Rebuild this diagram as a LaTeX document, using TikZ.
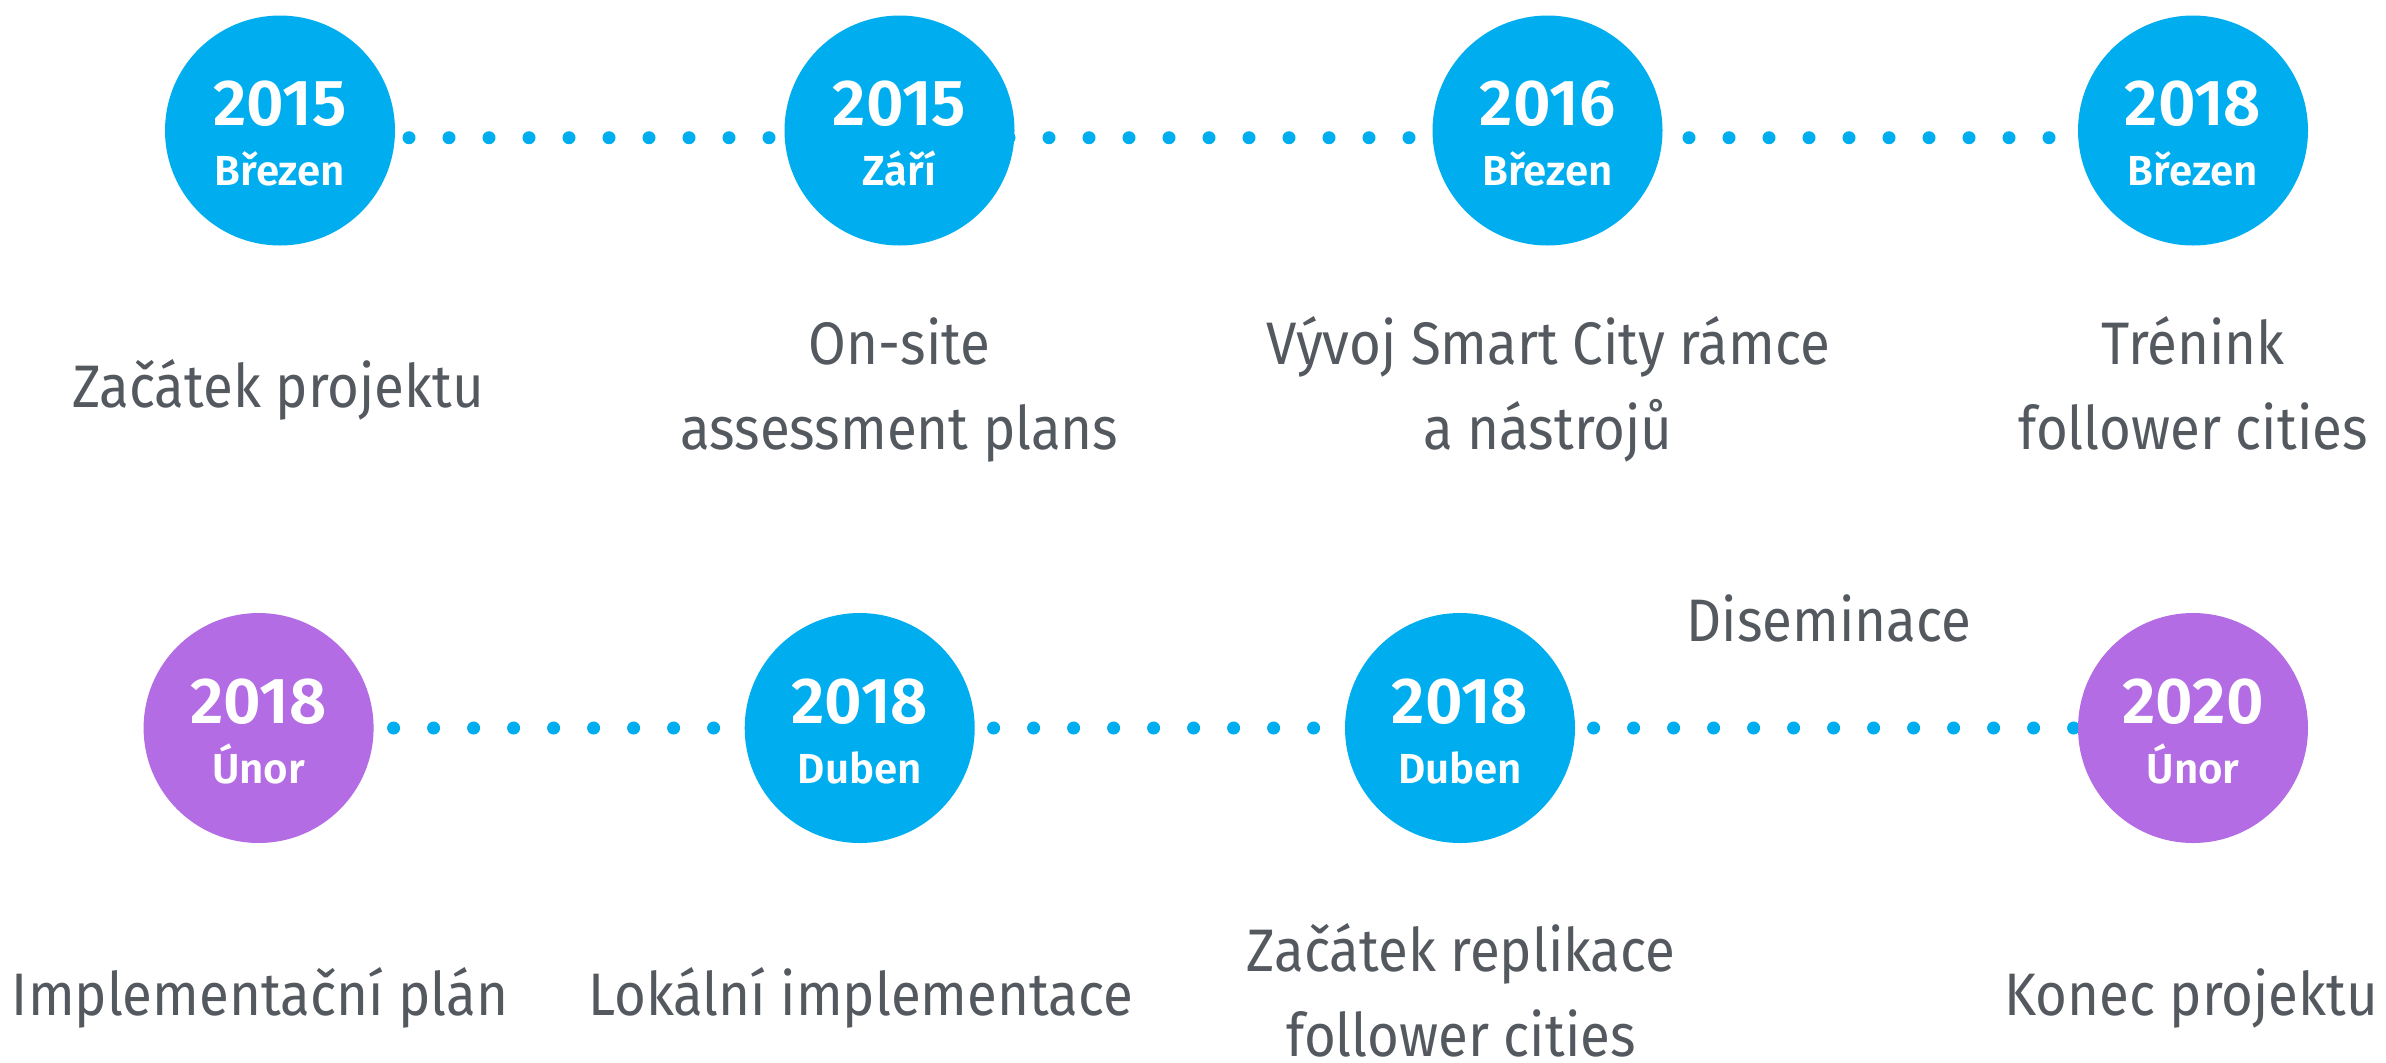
\documentclass[tikz,border=0pt]{standalone}
\usepackage{fontspec}
\IfFontExistsTF{Fira Sans Book}{\setmainfont{Fira Sans Book}[FakeStretch=0.93]}{\setmainfont{Fira Sans}[FakeStretch=0.91]}
\IfFontExistsTF{Fira Sans SemiBold}{\newfontfamily\yearfam{Fira Sans SemiBold}}{\newcommand\yearfam{\bfseries}}
\usetikzlibrary{backgrounds}

\definecolor{msblue}{RGB}{0,174,239}
\definecolor{mspurple}{RGB}{179,108,227}
\definecolor{labelgray}{RGB}{84,89,95}

\begin{document}
\begin{tikzpicture}[x=0.5pt, y=-0.5pt]
	\tikzstyle{milestone}=[circle, minimum size=115pt, inner sep=0pt, fill=msblue]
	\tikzstyle{yeartext}=[anchor=base, inner sep=0pt, text=white, font=\yearfam\fontsize{32.5}{32.5}\selectfont]
	\tikzstyle{monthtext}=[anchor=base, inner sep=0pt, text=white, font=\yearfam\fontsize{21}{21}\selectfont]
	\tikzstyle{caption}=[anchor=base, inner sep=0pt, align=center, text=labelgray, font=\fontsize{30}{42.5}\selectfont]
	\tikzstyle{dotline}=[msblue, line width=6.5pt, line cap=round, dash pattern=on 0pt off 20pt]
	\useasboundingbox (0,0) rectangle (2386,1062);
	% milestones
	\foreach \n/\x/\y/\col/\yr/\mo in {t1/280/130.5/msblue/2015/Březen, t2/899.5/130.5/msblue/2015/Září,
		t3/1547.5/130.5/msblue/2016/Březen, t4/2193/130.5/msblue/2018/Březen,
		b1/258.6/728/mspurple/2018/Únor, b2/859.7/728/msblue/2018/Duben,
		b3/1460/728/msblue/2018/Duben, b4/2193/728/mspurple/2020/Únor}
	{
		\node[milestone, fill=\col] (\n) at (\x,\y) {};
		\node[yeartext] (\n-yr) at (\x,\y-5) {\yr};
		\node[monthtext] (\n-mo) at (\x,\y+55) {\mo};
	}
	% dotted timelines
	\begin{scope}[on background layer]
		\draw[dotline, dash phase=15.5pt] ([yshift=-3.6pt]t1.center) -- ([yshift=-3.6pt]t4.center);
		\draw[dotline, dash phase=12.5pt] (b1.center) -- (b4.center);
	\end{scope}
	% captions (base = last line)
	\node[caption] (t1-cap) at (278,407) {Začátek projektu};
	\node[caption] (t2-cap) at (899.5,449) {On-site\\assessment plans};
	\node[caption] (t3-cap) at (1548,449) {Vývoj Smart City rámce\\a nástrojů};
	\node[caption] (t4-cap) at (2193,449) {Trénink\\follower cities};
	\node[caption] (dissem) at (1829,641) {Diseminace};
	\node[caption] (b1-cap) at (260,1015) {Implementační plán};
	\node[caption] (b2-cap) at (861,1015) {Lokální implementace};
	\node[caption] (b3-cap) at (1461,1056) {Začátek replikace\\follower cities};
	\node[caption] (b4-cap) at (2191,1015) {Konec projektu};
\end{tikzpicture}
\end{document}
